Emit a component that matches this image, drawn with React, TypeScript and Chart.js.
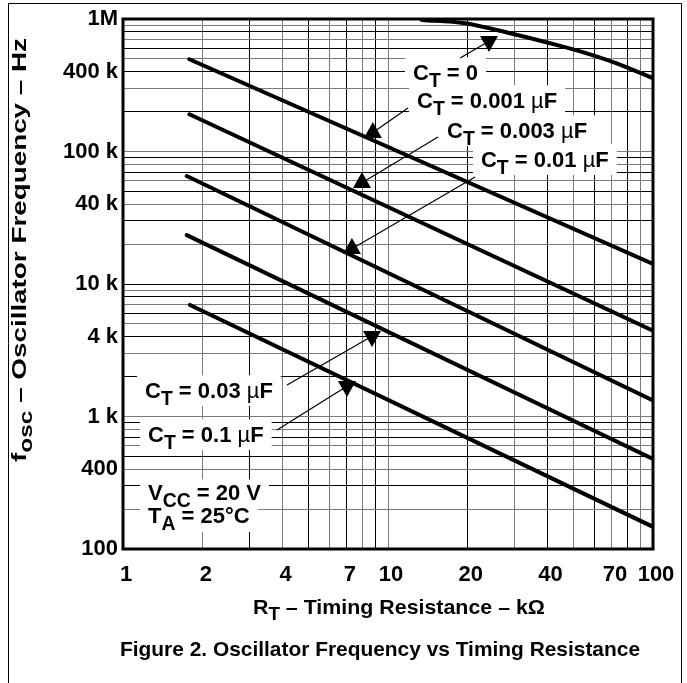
import React, { useEffect, useRef } from 'react';
import { Chart, registerables } from 'chart.js';

Chart.register(...registerables);

// ---------- axes ----------
const xMin = 1;
const xMax = 100;
const yMin = 100;
const yMax = 1000000;
const xTickValues = [1, 2, 4, 7, 10, 20, 40, 70, 100];
const xTickLabels = ['1', '2', '4', '7', '10', '20', '40', '70', '100'];
const yTickValues = [100, 400, 1000, 4000, 10000, 40000, 100000, 400000, 1000000];
const yTickLabels = ['100', '400', '1 k', '4 k', '10 k', '40 k', '100 k', '400 k', '1M'];

// ---------- series (R_T in kΩ, f_osc in Hz) ----------
const ct0R = [13.4, 19.5, 28.9, 40.9, 56.2, 72.9, 100];
const ct0F = [983000, 928000, 780000, 656000, 551000, 463000, 357000];
const ct001R = [1.78, 100];
const ct001F = [497000, 14200];
const ct003R = [1.78, 100];
const ct003F = [191000, 4440];
const ct01R = [1.74, 100];
const ct01F = [65300, 1320];
const ct03R = [1.74, 100];
const ct03F = [23400, 478];
const ct1R = [1.79, 100];
const ct1F = [6950, 147];

// ---------- annotations (data coordinates) ----------
const annText = ['C_{T} = 0', 'C_{T} = 0.001 µF', 'C_{T} = 0.003 µF', 'C_{T} = 0.01 µF', 'C_{T} = 0.03 µF', 'C_{T} = 0.1 µF'];
const annX = [12.43, 12.87, 16.7, 22.43, 1.211, 1.243];
const annY = [346500, 213000, 126500, 76400, 1379, 642];
const annTipX = [24.05, 8.77, 7.98, 7.31, 8.7, 7.0];
const annTipY = [563800, 167300, 70000, 22240, 3346, 1404];
const annDir = [-1, 1, 1, 1, -1, -1]; // 1 = points up, -1 = points down
const annLeadX = [18.72, 11.9, 15.44, 21.3, 4.16, 3.81];
const annLeadY = [507900, 213000, 128700, 64200, 1729, 791];

const noteText = ['V_{CC} = 20 V', 'T_{A} = 25°C'];
const noteX = [1.243, 1.243];
const noteY = [234, 157];

const yTitle = 'f_{osc} – Oscillator Frequency – Hz';
const xTitle = 'R_{T} – Timing Resistance – kΩ';
const caption = 'Figure 2. Oscillator Frequency vs Timing Resistance';

// ---------- helpers ----------
const FAMILY = '"Liberation Sans", Arial, Helvetica, sans-serif';

type Part = { t: string; sub: boolean };

function parseRich(s: string): Part[] {
  const parts: Part[] = [];
  const re = /_\{([^}]*)\}/g;
  let last = 0;
  let m: RegExpExecArray | null;
  while ((m = re.exec(s))) {
    if (m.index > last) parts.push({ t: s.slice(last, m.index), sub: false });
    parts.push({ t: m[1], sub: true });
    last = m.index + m[0].length;
  }
  if (last < s.length) parts.push({ t: s.slice(last), sub: false });
  return parts;
}

type Run = { t: string; size: number; dy: number; weight: string };

function runsOf(parts: Part[], size: number): Run[] {
  const runs: Run[] = [];
  for (const p of parts) {
    const sz = p.sub ? size * 0.88 : size;
    const dy = p.sub ? size * 0.3 : 0;
    const pieces = p.t.split(/(µ)/);
    for (const piece of pieces) {
      if (!piece) continue;
      runs.push({ t: piece, size: sz, dy, weight: piece === 'µ' ? 'normal' : 'bold' });
    }
  }
  return runs;
}

function measureRich(ctx: CanvasRenderingContext2D, s: string, size: number): number {
  let w = 0;
  for (const r of runsOf(parseRich(s), size)) {
    ctx.font = `${r.weight} ${r.size}px ${FAMILY}`;
    w += ctx.measureText(r.t).width;
  }
  return w;
}

function drawRich(ctx: CanvasRenderingContext2D, s: string, x: number, y: number, size: number) {
  let cx = x;
  ctx.textBaseline = 'alphabetic';
  ctx.textAlign = 'left';
  for (const r of runsOf(parseRich(s), size)) {
    ctx.font = `${r.weight} ${r.size}px ${FAMILY}`;
    ctx.fillText(r.t, cx, y + r.dy);
    cx += ctx.measureText(r.t).width;
  }
}

function drawFitted(ctx: CanvasRenderingContext2D, s: string, cx: number, baseline: number, size: number, target: number) {
  const w = measureRich(ctx, s, size);
  const sx = Math.max(0.8, Math.min(1.6, target / w));
  ctx.save();
  ctx.translate(cx - (w * sx) / 2, baseline);
  ctx.scale(sx, 1);
  drawRich(ctx, s, 0, 0, size);
  ctx.restore();
}

function gridValues(lo: number, hi: number): number[] {
  const out: number[] = [];
  for (let d = lo; d < hi; d *= 10) {
    for (let m = 1; m <= 9; m++) out.push(m * d);
  }
  out.push(hi);
  return out;
}

const LABEL_FS = 22;

const overlayPlugin = {
  id: 'overlay',
  afterDatasetsDraw(chart: any) {
    const ctx: CanvasRenderingContext2D = chart.ctx;
    const xs = chart.scales.x;
    const ys = chart.scales.y;
    ctx.save();
    const cap = LABEL_FS * 0.716;
    for (let i = 0; i < annText.length; i++) {
      const px = xs.getPixelForValue(annX[i]);
      const py = ys.getPixelForValue(annY[i]);
      const w = measureRich(ctx, annText[i], LABEL_FS);
      ctx.fillStyle = '#fff';
      ctx.fillRect(px - 8, py - cap - 7, w + 16, cap + 15);
    }
    for (let i = 0; i < noteText.length; i++) {
      const px = xs.getPixelForValue(noteX[i]);
      const py = ys.getPixelForValue(noteY[i]);
      const w = measureRich(ctx, noteText[i], LABEL_FS);
      ctx.fillStyle = '#fff';
      ctx.fillRect(px - 8, py - cap - 5, w + 16, cap + 14);
    }
    ctx.fillStyle = '#000';
    for (let i = 0; i < annText.length; i++) {
      const px = xs.getPixelForValue(annX[i]);
      const py = ys.getPixelForValue(annY[i]);
      drawRich(ctx, annText[i], px, py, LABEL_FS);
    }
    for (let i = 0; i < noteText.length; i++) {
      const px = xs.getPixelForValue(noteX[i]);
      const py = ys.getPixelForValue(noteY[i]);
      drawRich(ctx, noteText[i], px, py, LABEL_FS);
    }
    const tw = 18;
    const th = 16;
    for (let i = 0; i < annTipX.length; i++) {
      const tx = xs.getPixelForValue(annTipX[i]);
      const ty = ys.getPixelForValue(annTipY[i]);
      const dir = annDir[i];
      const cy = dir > 0 ? ty + (th * 2) / 3 : ty - (th * 2) / 3;
      const lx = xs.getPixelForValue(annLeadX[i]);
      const ly = ys.getPixelForValue(annLeadY[i]);
      ctx.strokeStyle = '#000';
      ctx.lineWidth = 1.2;
      ctx.beginPath();
      ctx.moveTo(lx, ly);
      ctx.lineTo(tx, cy);
      ctx.stroke();
      const by = dir > 0 ? ty + th : ty - th;
      ctx.beginPath();
      ctx.moveTo(tx, ty);
      ctx.lineTo(tx - tw / 2, by);
      ctx.lineTo(tx + tw / 2, by);
      ctx.closePath();
      ctx.fillStyle = '#000';
      ctx.fill();
    }
    ctx.restore();
  },
  afterDraw(chart: any) {
    const ctx: CanvasRenderingContext2D = chart.ctx;
    const a = chart.chartArea;
    ctx.save();
    ctx.strokeStyle = '#000';
    ctx.lineWidth = 3;
    ctx.strokeRect(a.left, a.top, a.right - a.left, a.bottom - a.top);
    ctx.lineWidth = 1;
    ctx.beginPath();
    ctx.moveTo(8.5, 683);
    ctx.lineTo(8.5, 3.5);
    ctx.lineTo(681.5, 3.5);
    ctx.lineTo(681.5, 683);
    ctx.stroke();
    ctx.fillStyle = '#000';
    const yw = measureRich(ctx, yTitle, 21);
    const ysx = Math.max(0.8, Math.min(1.6, 424 / yw));
    ctx.save();
    ctx.translate(26, 462);
    ctx.rotate(-Math.PI / 2);
    ctx.scale(ysx, 1);
    drawRich(ctx, yTitle, 0, 0, 21);
    ctx.restore();
    drawFitted(ctx, xTitle, 399, 614, 21, 292);
    drawFitted(ctx, caption, 380, 656, 21, 520);
    ctx.restore();
  },
};

const lineDs = (label: string, xs: number[], ys: number[], smooth: boolean) => ({
  label,
  data: xs.map((v, i) => ({ x: v, y: ys[i] })),
  borderColor: '#000',
  backgroundColor: '#000',
  borderWidth: 4,
  pointRadius: 0,
  borderCapStyle: 'round' as const,
  tension: smooth ? 0.4 : 0,
  cubicInterpolationMode: smooth ? ('monotone' as const) : ('default' as const),
  fill: false,
});

export default function App() {
  const ref = useRef<HTMLCanvasElement>(null);

  useEffect(() => {
    if (!ref.current) return;
    const xGrid = gridValues(xMin, xMax);
    const yGrid = gridValues(yMin, yMax);
    const tickFont = { family: FAMILY, size: 22, weight: 'bold' as const };
    const chart = new Chart(ref.current, {
      type: 'line',
      data: {
        datasets: [
          lineDs('CT = 0', ct0R, ct0F, true),
          lineDs('CT = 0.001 µF', ct001R, ct001F, false),
          lineDs('CT = 0.003 µF', ct003R, ct003F, false),
          lineDs('CT = 0.01 µF', ct01R, ct01F, false),
          lineDs('CT = 0.03 µF', ct03R, ct03F, false),
          lineDs('CT = 0.1 µF', ct1R, ct1F, false),
        ],
      },
      options: {
        responsive: false,
        maintainAspectRatio: false,
        devicePixelRatio: 1,
        animation: false,
        layout: { padding: { left: 0, top: 19, right: 34, bottom: 0 } },
        plugins: { legend: { display: false }, tooltip: { enabled: false }, title: { display: false } },
        scales: {
          x: {
            type: 'logarithmic',
            min: xMin,
            max: xMax,
            afterBuildTicks: (scale: any) => {
              scale.ticks = xGrid.map((v) => ({ value: v }));
            },
            afterFit: (scale: any) => {
              scale.height = 134;
            },
            border: { display: false },
            grid: {
              drawTicks: false,
              lineWidth: 1,
              color: (c: any) => (c.index % 2 ? '#7a7a7a' : '#000'),
            },
            ticks: {
              autoSkip: false,
              maxRotation: 0,
              minRotation: 0,
              padding: 13,
              labelOffset: 3,
              color: '#000',
              font: tickFont,
              callback: (value: any) => {
                const i = xTickValues.indexOf(Number(value));
                return i >= 0 ? xTickLabels[i] : '';
              },
            },
          },
          y: {
            type: 'logarithmic',
            min: yMin,
            max: yMax,
            afterBuildTicks: (scale: any) => {
              scale.ticks = yGrid.map((v) => ({ value: v }));
            },
            afterFit: (scale: any) => {
              scale.width = 123;
            },
            border: { display: false },
            grid: {
              drawTicks: false,
              lineWidth: 1,
              color: (c: any) => (c.index % 2 ? '#7a7a7a' : '#000'),
            },
            ticks: {
              autoSkip: false,
              padding: 5,
              color: '#000',
              font: tickFont,
              callback: (value: any) => {
                const i = yTickValues.indexOf(Number(value));
                return i >= 0 ? yTickLabels[i] : '';
              },
            },
          },
        },
      },
      plugins: [overlayPlugin],
    } as any);
    return () => chart.destroy();
  }, []);

  return (
    <div style={{ position: 'absolute', left: 0, top: 0, width: 687, height: 683, background: '#fff' }}>
      <canvas ref={ref} width={687} height={683} style={{ display: 'block', width: 687, height: 683 }} />
    </div>
  );
}
